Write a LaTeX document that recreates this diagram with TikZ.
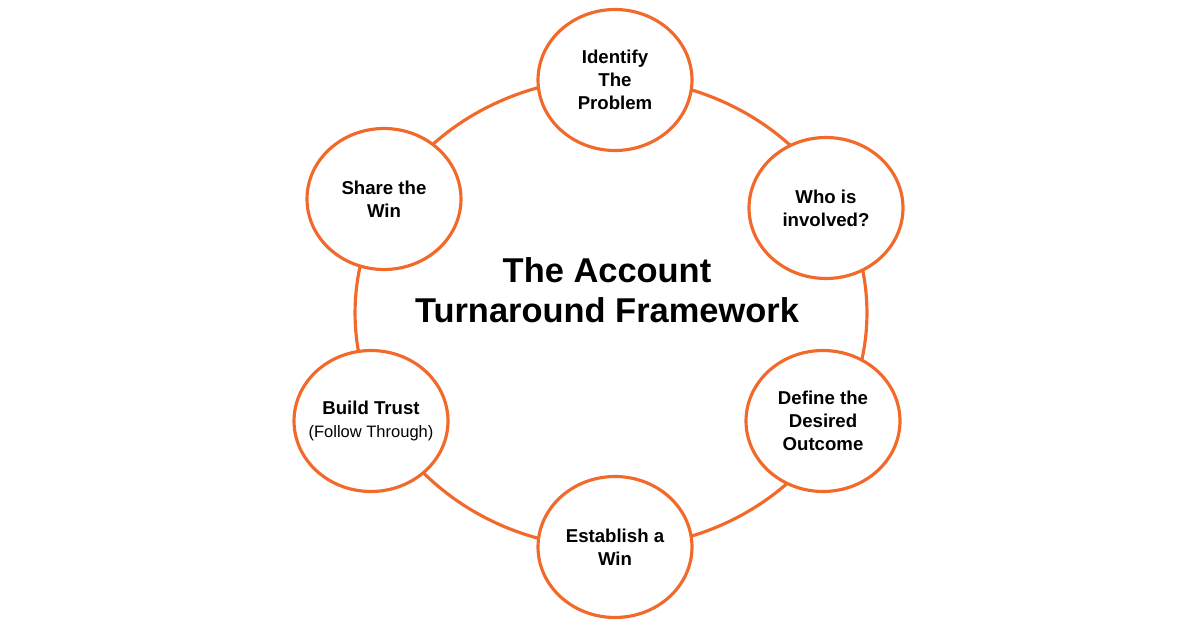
\documentclass[tikz,border=0pt]{standalone}
\usepackage{fontspec}
\setmainfont{Liberation Sans}
\usetikzlibrary{shapes.geometric}
\definecolor{ringorange}{RGB}{242,106,43}
\tikzset{
  ring/.style={draw=ringorange, line width=1.8pt, ellipse},
  stage/.style={ring, fill=white, inner ysep=0pt, inner xsep=-5pt,
    minimum width=3.08cm, minimum height=2.82cm, align=center,
    font=\fontsize{10.6}{13}\selectfont\bfseries}
}
\begin{document}
\begin{tikzpicture}[x=0.02cm,y=-0.02cm]
    \useasboundingbox (0,0) rectangle (1200,628);
    \node[ring, minimum width=10.24cm, minimum height=9.4cm] (ring) at (611,313) {};
    \foreach \n/\p/\t in {
        problem/{615,80}/{Identify\\The\\Problem},
        who/{826,208}/{Who is\\involved?},
        outcome/{823,421}/{Define the\\Desired\\Outcome},
        win/{615,547}/{Establish a\\Win},
        trust/{371,421}/{Build Trust\\{\fontsize{9.4}{11}\selectfont\mdseries (Follow Through)}},
        share/{384,199}/{Share the\\Win}}{
      \node[stage] (\n) at (\p) {\t};
    }
    \node[align=center, font=\fontsize{19.6}{22.8}\selectfont\bfseries] (title)
      at (607,290) {The Account\\Turnaround Framework};
\end{tikzpicture}
\end{document}
